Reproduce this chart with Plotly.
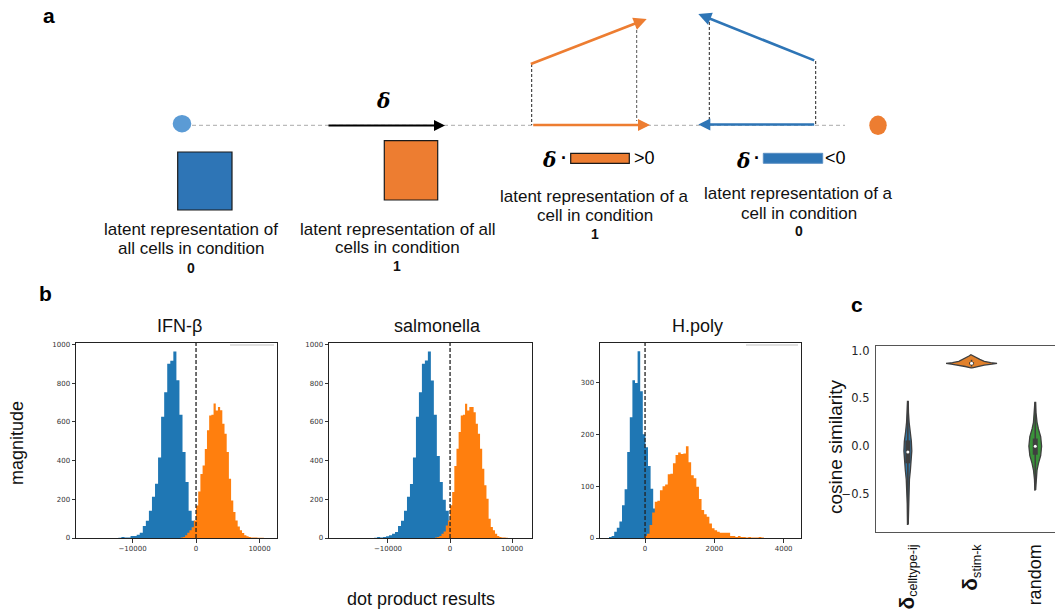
import numpy as np
import plotly.graph_objects as go

W, H = 1055, 610
ARIAL = "Liberation Sans, Arial, sans-serif"
DJ = "DejaVu Sans, sans-serif"
SERIF = "DejaVu Serif, serif"

# ---------------- panel b data: histograms (bin start, bin width, counts) ----------------
hist_titles = ["IFN-β", "salmonella", "H.poly"]

ifn_ctrl_start, ifn_ctrl_width = -12230, 481
ifn_ctrl_counts = [1, 5, 2, 3, 10, 10, 17, 27, 62, 89, 141, 213, 280, 416, 626, 753, 900, 915,
                   963, 815, 637, 444, 289, 141, 89, 50, 20, 6]
ifn_stim_start, ifn_stim_width = -2415, 345
ifn_stim_counts = [2, 5, 14, 27, 40, 55, 91, 168, 240, 330, 375, 460, 556, 633, 637, 695, 659, 676,
                   660, 590, 538, 444, 306, 194, 134, 91, 60, 40, 26, 14, 9, 5, 3, 2, 2, 1, 1, 1]

sal_ctrl_start, sal_ctrl_width = -12230, 481
sal_ctrl_counts = [1, 5, 3, 5, 9, 14, 22, 31, 62, 89, 141, 213, 279, 416, 626, 753, 900, 917,
                   963, 813, 637, 423, 289, 198, 141, 91, 40, 10]
sal_stim_start, sal_stim_width = -2415, 345
sal_stim_counts = [2, 5, 10, 22, 34, 65, 91, 169, 237, 372, 461, 547, 633, 636, 693, 659, 676, 676,
                   650, 590, 538, 461, 358, 272, 203, 100, 57, 40, 22, 10, 5, 3, 2, 1]

hp_ctrl_start, hp_ctrl_width = -1040, 75
hp_ctrl_counts = [2, 4, 12, 20, 32, 63, 94, 166, 233, 304, 299, 360, 283, 200, 175, 139, 95, 57,
                  54, 20, 8]
hp_stim_start, hp_stim_width = -20, 75
hp_stim_counts = [4, 8, 25, 49, 70, 72, 92, 100, 103, 123, 124, 144, 160, 165, 162, 163, 177, 146,
                  121, 115, 99, 75, 54, 46, 41, 28, 19, 15, 12, 10, 10, 10, 10, 4, 4, 2, 4, 2, 2,
                  1, 2, 1, 1, 1, 2, 1]

hist_xticks = [[-10000, 0, 10000], [-10000, 0, 10000], [0, 2000, 4000]]
hist_xticktext = [["−10000", "0", "10000"], ["−10000", "0", "10000"], ["0", "2000", "4000"]]
hist_yticks = [[0, 200, 400, 600, 800, 1000], [0, 200, 400, 600, 800, 1000], [0, 100, 200, 300]]
hist_xrange = [[-18900, 12750], [-19500, 13200], [-1300, 4500]]
hist_yrange = [[0, 1007], [0, 1007], [0, 376]]

# ---------------- panel c data: violin profiles ----------------
violin_labels = ["<span style='font-size:21px'><b>δ</b></span><sub>celltype-ij</sub>",
                 "<span style='font-size:21px'><b>δ</b></span><sub>stim-k</sub>",
                 "random"]
violin_colors = ["#3274a1", "#e1812c", "#3a923a"]
celltype_y = [-0.82, -0.6, -0.45, -0.35, -0.25, -0.15, -0.05, 0.05, 0.15, 0.25, 0.35, 0.47]
celltype_hw = [0.006, 0.01, 0.015, 0.025, 0.04, 0.055, 0.062, 0.055, 0.035, 0.02, 0.01, 0.006]
stim_y = [0.82, 0.835, 0.85, 0.86, 0.868, 0.875, 0.89, 0.91, 0.93, 0.945, 0.958]
stim_hw = [0.01, 0.1, 0.2, 0.32, 0.4, 0.3, 0.2, 0.13, 0.08, 0.04, 0.01]
random_y = [-0.46, -0.35, -0.25, -0.18, -0.1, 0.0, 0.1, 0.18, 0.25, 0.35, 0.46]
random_hw = [0.006, 0.012, 0.028, 0.05, 0.085, 0.1, 0.085, 0.05, 0.028, 0.012, 0.006]
violin_q1 = [-0.18, 0.856, -0.09]
violin_q3 = [0.06, 0.88, 0.08]
violin_med = [-0.06, 0.868, 0.0]
violin_wlo = [-0.82, 0.835, -0.46]
violin_whi = [0.47, 0.905, 0.46]

# ---------------- figure ----------------
fig = go.Figure()
annotations = []
shapes = []


def px(x):
    return x / W


def py(y):
    return 1 - y / H


def text(x, y, s, size, family=ARIAL, color="#111111", angle=0, xanchor="center"):
    annotations.append(dict(x=px(x), y=py(y), xref="paper", yref="paper", text=s,
                            showarrow=False, textangle=angle, xanchor=xanchor, yanchor="middle",
                            font=dict(family=family, size=size, color=color)))


def arrow(x0, y0, x1, y1, color, width):
    annotations.append(dict(x=px(x1), y=py(y1), xref="paper", yref="paper", text="",
                            showarrow=True, ax=x0 - x1, ay=y0 - y1, axref="pixel",
                            ayref="pixel", arrowhead=2, arrowsize=1.0, arrowwidth=width,
                            arrowcolor=color, standoff=0, startstandoff=0))


def line(x0, y0, x1, y1, color, width, dash=None):
    d = dict(color=color, width=width)
    if dash:
        d["dash"] = dash
    shapes.append(dict(type="line", xref="paper", yref="paper", x0=px(x0), y0=py(y0),
                       x1=px(x1), y1=py(y1), line=d, layer="above"))


def rect(x0, y0, x1, y1, fill, border, bw=1):
    shapes.append(dict(type="rect", xref="paper", yref="paper", x0=px(x0), y0=py(y0),
                       x1=px(x1), y1=py(y1), fillcolor=fill,
                       line=dict(color=border, width=bw), layer="above"))


def ellipse(cx, cy, rx, ry, fill):
    shapes.append(dict(type="circle", xref="paper", yref="paper", x0=px(cx - rx), y0=py(cy - ry),
                       x1=px(cx + rx), y1=py(cy + ry), fillcolor=fill,
                       line=dict(width=0), layer="above"))


BLUE = "#2e75b6"
ORANGE = "#ed7d31"

# ---------------- panel a (schematic) ----------------
text(49, 15, "<b>a</b>", 21, color="#000")
line(192, 125.3, 845, 125.3, "#aaaaaa", 1, "4px,3px")
ellipse(182, 123.7, 9.3, 8.7, "#5b9bd5")
ellipse(878, 125.3, 8.7, 9.7, ORANGE)
arrow(327, 125.5, 445, 125.5, "#000000", 2.2)
text(383, 101, "<b><i>δ</i></b>", 20, family=SERIF, color="#000")
rect(177.7, 152, 232, 210, BLUE, "#1a1a1a", 1.2)
rect(384.3, 140.7, 437.7, 200, ORANGE, "#1a1a1a", 1.2)
text(190.5, 230, "latent representation of", 17)
text(190.5, 248.3, "all cells in condition", 17)
text(190.7, 268.3, "<b>0</b>", 14)
text(397.5, 229, "latent representation of all", 17)
text(397.3, 247.3, "cells in condition", 17)
text(397.3, 265.7, "<b>1</b>", 14)

# projection of a condition-1 cell
line(531.7, 64, 531.7, 125, "#222", 1, "3px,2px")
line(636.7, 25, 636.7, 121, "#555", 1, "3px,2px")
arrow(529.3, 64.5, 646.7, 19, ORANGE, 2.6)
arrow(531.7, 125, 650, 125, ORANGE, 2.4)
# projection of a condition-0 cell
line(709.3, 22, 709.3, 125, "#222", 1, "3px,2px")
line(815.7, 61, 815.7, 125, "#222", 1, "3px,2px")
arrow(815.7, 61, 698.3, 14, BLUE, 2.6)
arrow(815.7, 124.5, 698.3, 124.5, BLUE, 2.4)

text(549.3, 160, "<b><i>δ</i></b>", 20, family=SERIF, color="#000")
text(563.5, 158, "<b>·</b>", 18, color="#000")
rect(570.7, 153.3, 629.3, 163.3, ORANGE, "#1a1a1a", 1.2)
text(644.7, 158.3, "&gt;0", 18, color="#000")
text(742.7, 161, "<b><i>δ</i></b>", 20, family=SERIF, color="#000")
text(756.5, 158, "<b>·</b>", 18, color="#000")
rect(763.3, 153.3, 822.7, 163.3, BLUE, "#5b8fc4", 1)
text(835.5, 158.3, "&lt;0", 18, color="#000")
text(594.7, 196.7, "latent representation of a", 17)
text(594.8, 215, "cell in condition", 17)
text(595, 234.3, "<b>1</b>", 14)
text(798.7, 193.3, "latent representation of a", 17)
text(798.5, 213.3, "cell in condition", 17)
text(798.7, 231, "<b>0</b>", 14)

# ---------------- panel b (histograms) ----------------
text(45, 293, "<b>b</b>", 21, color="#000")
hist_sets = [
    (ifn_ctrl_start, ifn_ctrl_width, ifn_ctrl_counts, ifn_stim_start, ifn_stim_width, ifn_stim_counts),
    (sal_ctrl_start, sal_ctrl_width, sal_ctrl_counts, sal_stim_start, sal_stim_width, sal_stim_counts),
    (hp_ctrl_start, hp_ctrl_width, hp_ctrl_counts, hp_stim_start, hp_stim_width, hp_stim_counts),
]
hist_xdom = [(76, 277), (329, 532), (600, 801)]
title_x = [179, 437, 697]

axis_common = dict(showline=True, linecolor="#222", linewidth=1, mirror=True, ticks="outside",
                   ticklen=3.5, tickwidth=0.8, tickcolor="#333", showgrid=False, zeroline=False,
                   automargin=False,
                   tickfont=dict(family=DJ, size=7, color="#333"))


def step_hist(start, width, counts, color, xa, ya):
    counts = np.array(counts, dtype=float)
    edges = start + width * np.arange(len(counts) + 1)
    ys = np.append(counts, counts[-1])
    xs = np.concatenate([[edges[0]], edges, [edges[-1]]])
    ys = np.concatenate([[0], ys, [0]])
    fig.add_trace(go.Scatter(x=xs, y=ys, mode="lines", line=dict(shape="hv", width=0, color=color),
                             fill="toself", fillcolor=color, xaxis=xa, yaxis=ya,
                             showlegend=False, hoverinfo="skip"))


layout_axes = {}
for i, (cs, cw, cc, ss, sw, sc) in enumerate(hist_sets):
    sfx = "" if i == 0 else str(i + 1)
    xa, ya = "x" + sfx, "y" + sfx
    step_hist(cs, cw, cc, "#1f77b4", xa, ya)
    step_hist(ss, sw, sc, "#ff7f0e", xa, ya)
    layout_axes["xaxis" + sfx] = dict(axis_common, domain=[px(hist_xdom[i][0]), px(hist_xdom[i][1])],
                                      range=hist_xrange[i], tickvals=hist_xticks[i],
                                      ticktext=hist_xticktext[i], anchor=ya)
    layout_axes["yaxis" + sfx] = dict(axis_common, domain=[py(538), py(343)], range=hist_yrange[i],
                                      tickvals=hist_yticks[i], anchor=xa)
    shapes.append(dict(type="line", xref=xa, yref=ya + " domain", x0=0, x1=0, y0=0, y1=1,
                       line=dict(color="#222", width=1.3, dash="4px,2px"), layer="above"))
    text(title_x[i], 326, hist_titles[i], 18, color="#111")

line(230, 345, 274, 345, "#d4d4d4", 1.5)
line(746, 345, 798, 345, "#d4d4d4", 1.5)
text(17, 443, "magnitude", 18, angle=-90)
text(421, 599, "dot product results", 18)

# ---------------- panel c (violins) ----------------
text(856.7, 304, "<b>c</b>", 21, color="#000")
profiles = [(celltype_y, celltype_hw), (stim_y, stim_hw), (random_y, random_hw)]
GRAY = "#3f3f3f"
for i, (yy, hw) in enumerate(profiles):
    yy = np.array(yy)
    hw = np.array(hw)
    xs = np.concatenate([i + hw, (i - hw)[::-1], [i + hw[0]]])
    ys = np.concatenate([yy, yy[::-1], [yy[0]]])
    fig.add_trace(go.Scatter(x=xs, y=ys, mode="lines", fill="toself", fillcolor=violin_colors[i],
                             line=dict(color=GRAY, width=1.3), xaxis="x4", yaxis="y4",
                             showlegend=False, hoverinfo="skip"))
    fig.add_trace(go.Scatter(x=[i, i], y=[violin_wlo[i], violin_whi[i]], mode="lines",
                             line=dict(color=GRAY, width=1.6), xaxis="x4", yaxis="y4",
                             showlegend=False, hoverinfo="skip"))
    fig.add_trace(go.Scatter(x=[i, i], y=[violin_q1[i], violin_q3[i]], mode="lines",
                             line=dict(color=GRAY, width=5), xaxis="x4", yaxis="y4",
                             showlegend=False, hoverinfo="skip"))
    fig.add_trace(go.Scatter(x=[i], y=[violin_med[i]], mode="markers",
                             marker=dict(color="white", size=3), xaxis="x4", yaxis="y4",
                             showlegend=False, hoverinfo="skip"))

layout_axes["xaxis4"] = dict(domain=[px(876), 1.0], range=[-0.5, 2.31], anchor="y4",
                             showline=True, linecolor="#555", linewidth=1.3, mirror=True,
                             showgrid=False, zeroline=False, ticks="", automargin=False,
                             tickvals=[0, 1, 2], ticktext=violin_labels, tickangle=-90,
                             ticklabelstandoff=4,
                             tickfont=dict(family=ARIAL, size=18, color="#111"))
layout_axes["yaxis4"] = dict(domain=[py(532), py(346)], range=[-0.9, 1.05], anchor="x4",
                             showline=True, linecolor="#555", linewidth=1.3, mirror=True,
                             showgrid=False, zeroline=False, ticks="", automargin=False,
                             tickvals=[-0.5, 0.0, 0.5, 1.0], tickformat=".1f",
                             ticklabelstandoff=3,
                             tickfont=dict(family=DJ, size=11.5, color="#262626"))
text(835, 447, "cosine similarity", 19, angle=-90)

fig.update_layout(width=W, height=H,
                  margin=dict(l=0, r=0, t=0, b=0, pad=0, autoexpand=False),
                  paper_bgcolor="white", plot_bgcolor="white",
                  showlegend=False, annotations=annotations, shapes=shapes, **layout_axes)

fig.write_html("out.html", config={"displayModeBar": False},
               post_script="document.body.style.margin='0px';document.body.style.padding='0px';")
